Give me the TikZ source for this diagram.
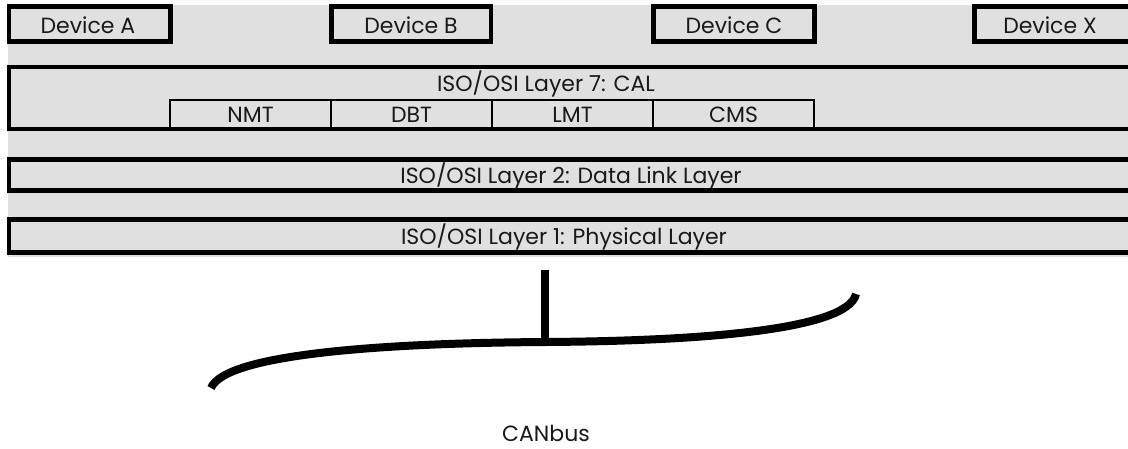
\documentclass[tikz,border=0pt]{standalone}
\usepackage{fontspec}
\setmainfont{Poppins}
\definecolor{bg}{RGB}{224,224,224}
\definecolor{txt}{RGB}{25,25,25}
\tikzset{
  thick box/.style={draw=black, line width=4.2pt, fill=bg, rectangle, inner sep=0pt},
  sub box/.style={draw=black, line width=1.8pt, fill=bg, rectangle, inner sep=0pt},
  lbl/.style={text=txt, font=\fontsize{22}{24}\selectfont, inner sep=0pt, anchor=center},
  bus/.style={line width=8pt, draw=black}
}
\begin{document}
\begin{tikzpicture}[x=1pt,y=-1pt]
\useasboundingbox (0,0) rectangle (1128,448);
\clip (0,0) rectangle (1128,448);
\fill[bg] (8,5) rectangle (1128,257);
% device boxes
\draw[thick box] (9,6.5) rectangle (170.5,41.5);
\node[lbl] (devA) at (88,25) {Device A};
\draw[thick box] (331.5,6.5) rectangle (491,41.5);
\node[lbl] (devB) at (411,25) {Device B};
\draw[thick box] (653.5,6.5) rectangle (814.5,41.5);
\node[lbl] (devC) at (734,25) {Device C};
\draw[thick box] (974.5,6.5) rectangle (1140,41.5);
\node[lbl] (devX) at (1050,25) {Device X};
% layer 7
\draw[thick box] (9,67) rectangle (1140,129);
\node[lbl] (l7) at (546,84) {ISO/OSI Layer 7: CAL};
\draw[sub box] (170,100) rectangle (331,129);
\draw[sub box] (331,100) rectangle (492,129);
\draw[sub box] (492,100) rectangle (653,129);
\draw[sub box] (653,100) rectangle (814,129);
\draw[line width=4.2pt] (9,129) -- (1140,129);
\node[lbl] (nmt) at (250.5,115) {NMT};
\node[lbl] (dbt) at (411.5,115) {DBT};
\node[lbl] (lmt) at (572.5,115) {LMT};
\node[lbl] (cms) at (733.5,115) {CMS};
% layer 2
\draw[thick box] (9,159.5) rectangle (1140,190.5);
\node[lbl] (l2) at (571,176) {ISO/OSI Layer 2: Data Link Layer};
% layer 1
\draw[thick box] (9,219.5) rectangle (1140,252.5);
\node[lbl] (l1) at (564,237) {ISO/OSI Layer 1: Physical Layer};
% bus
\coordinate (tap top) at (545,270);
\coordinate (tap) at (545,342);
\coordinate (busL) at (211,388);
\coordinate (busR) at (856,294);
\draw[bus] (busL) .. controls (226,352) and (400,343) .. (tap) .. controls (700,341) and (848,330) .. (busR);
\draw[bus] (tap top) -- (tap);
\node[lbl] (can) at (546,433) {CANbus};
\end{tikzpicture}
\end{document}
